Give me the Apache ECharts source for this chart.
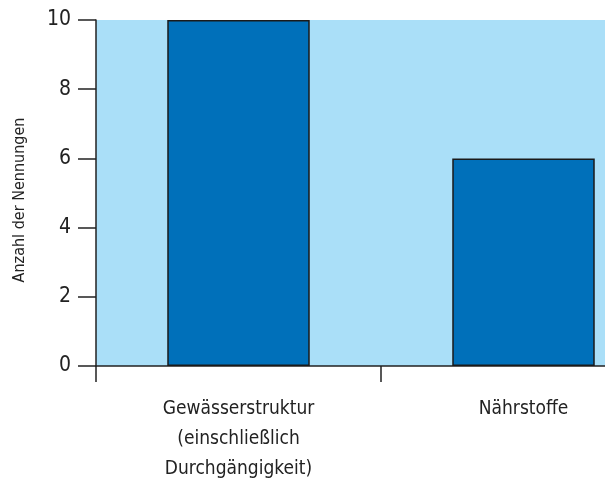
<!DOCTYPE html>
<html><head><meta charset="utf-8">
<script src="https://cdn.jsdelivr.net/npm/echarts@6/dist/echarts.min.js"></script>
<style>html,body{margin:0;padding:0;background:#fff}#c{width:605px;height:494px}</style>
</head><body><div id="c"></div>
<script>
const categories = ["Gewässerstruktur\n(einschließlich\nDurchgängigkeit)", "Nährstoffe"];
const values = [10, 6];
const yTicks = [0, 2, 4, 6, 8, 10];
const yName = "Anzahl der Nennungen";

const font = "'DejaVu Sans Condensed', 'Liberation Sans Narrow', 'DejaVu Sans', sans-serif";
const chart = echarts.init(document.getElementById('c'));
chart.setOption({
  animation: false,
  grid: { left: 96, top: 20, width: 570, height: 346, show: true, backgroundColor: '#AADFF8', borderWidth: 0, containLabel: false, outerBoundsMode: 'none' },
  xAxis: {
    type: 'category', data: categories,
    axisLine: { lineStyle: { color: '#222', width: 1.5 } },
    axisTick: { show: true, length: 16, lineStyle: { color: '#222', width: 1.5 } },
    axisLabel: { color: '#222', fontFamily: font, fontSize: 19, lineHeight: 30, margin: 28 }
  },
  yAxis: {
    type: 'value', min: yTicks[0], max: yTicks[yTicks.length - 1], interval: 2,
    name: yName, nameLocation: 'middle', nameGap: 68,
    nameTextStyle: { color: '#222', fontFamily: font, fontSize: 16, padding: [0, 14, 0, 0] },
    axisLine: { show: true, lineStyle: { color: '#222', width: 1.5 } },
    axisTick: { show: true, length: 18, lineStyle: { color: '#222', width: 1.5 } },
    axisLabel: { color: '#222', fontFamily: font, fontSize: 21, margin: 25 },
    splitLine: { show: false }
  },
  series: [{
    type: 'bar', data: values, barWidth: '50%',
    itemStyle: { color: '#0070BA', borderColor: '#1a1a1a', borderWidth: 1.5 }
  }]
});
</script></body></html>
